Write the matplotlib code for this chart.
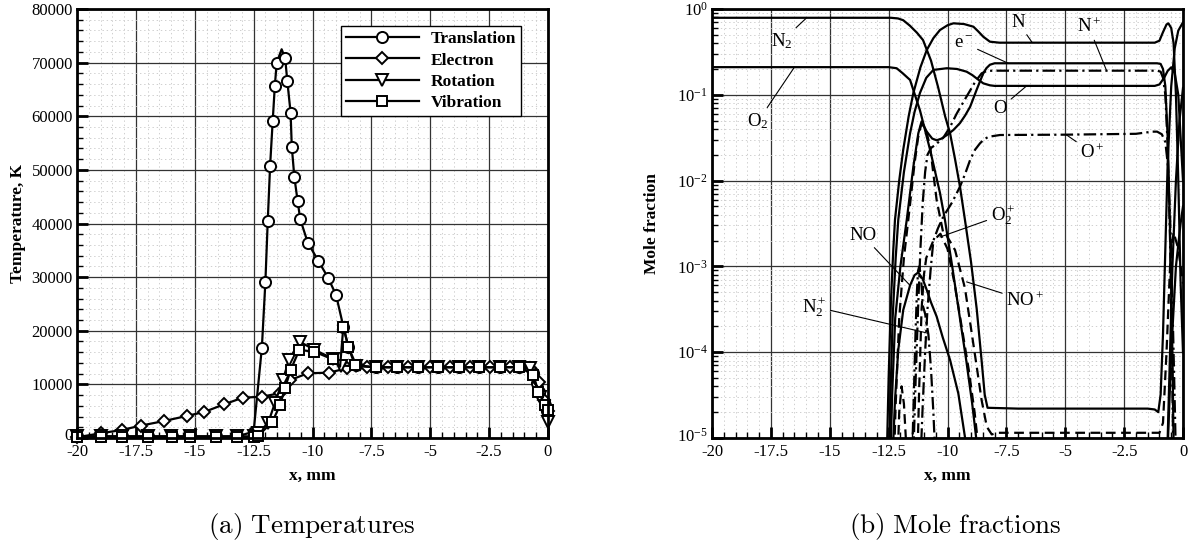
import matplotlib
matplotlib.use("Agg")
import matplotlib.pyplot as plt
from matplotlib.transforms import ScaledTranslation
from matplotlib.ticker import FixedLocator, MultipleLocator, LogLocator, NullFormatter

plt.rcParams["font.family"] = "Liberation Serif"
plt.rcParams["mathtext.fontset"] = "custom"
plt.rcParams["mathtext.rm"] = "Liberation Serif"
plt.rcParams["mathtext.it"] = "Liberation Serif:italic"
plt.rcParams["mathtext.bf"] = "Liberation Serif:bold"
plt.rcParams["lines.scale_dashes"] = False

# ---------------- temperatures (panel a) ----------------
x_tr = [-20, -19.0, -18.1, -17.0, -15.98, -15.2, -14.1, -13.2, -12.5, -12.15, -12.0, -11.9,
        -11.8, -11.69, -11.6, -11.52, -11.31, -11.16, -11.07, -10.93, -10.88, -10.77, -10.63,
        -10.52, -10.2, -9.75, -9.34, -9.0, -8.69, -8.48, -8.15, -7.3, -6.4, -5.51, -4.66,
        -3.77, -2.93, -2.04, -1.23, -0.62, -0.48, -0.37, -0.13, -0.03]
T_tr = [300, 300, 300, 300, 300, 300, 300, 300, 1175, 16850, 29160, 40520,
        50780, 59110, 65640, 69990, 72490, 70800, 66570, 60660, 54320, 48620, 44140,
        40780, 36420, 33020, 29900, 26680, 20770, 17030, 13620, 13190, 13190, 13190, 13190,
        13190, 13190, 13190, 13250, 12070, 10200, 8640, 6160, 5100]
tr_plain = [16]

x_el = [-20, -19.0, -18.1, -17.3, -16.3, -15.35, -14.6, -13.75, -12.96, -12.15, -11.4,
        -10.95, -10.2, -9.3, -8.55, -7.7, -6.78, -5.93, -5.01, -4.16, -3.31, -2.46,
        -1.61, -0.76, -0.4, -0.15, 0.0]
T_el = [130, 880, 1490, 2300, 3170, 4100, 4850, 6280, 7520, 7700, 8340,
        10800, 12070, 12180, 13000, 13180, 13180, 13180, 13180, 13180, 13180, 13180,
        13180, 13100, 10500, 7000, 5000]
el_plain = []

x_ro = [-20, -19.0, -18.1, -17.0, -16.0, -15.2, -14.1, -13.2, -12.5, -12.3, -11.88, -11.6,
        -11.26, -11.0, -10.55, -9.94, -9.14, -8.8, -8.15, -7.3, -6.4, -5.51, -4.66, -3.77,
        -2.93, -2.04, -1.23, -0.76, -0.34, 0.0]
T_ro = [300, 300, 300, 300, 300, 300, 300, 300, 300, 880, 2860, 6470,
        10820, 14550, 17970, 16500, 14800, 13500, 13400, 13190, 13190, 13190, 13190, 13190,
        13190, 13190, 13190, 13000, 7700, 3040]
ro_plain = []

x_vi = [-20, -19.0, -18.1, -17.0, -15.98, -15.2, -14.1, -13.2, -12.5, -12.3, -11.7, -11.38,
        -11.16, -10.93, -10.56, -9.92, -9.15, -8.83, -8.69, -8.48, -8.2, -7.3, -6.4, -5.51,
        -4.66, -3.77, -2.93, -2.04, -1.23, -0.62, -0.41, -0.13, 0.0]
T_vi = [200, 200, 200, 200, 200, 200, 200, 200, 200, 440, 3040, 6160,
        9390, 12690, 16420, 16100, 14680, 13300, 20770, 17030, 13620, 13190, 13190, 13190,
        13190, 13190, 13190, 13190, 13250, 11750, 8640, 6160, 5300]
vi_plain = [17]

temp_labels = ["Translation", "Electron", "Rotation", "Vibration"]
x_ticks = [-20, -17.5, -15, -12.5, -10, -7.5, -5, -2.5, 0]
x_ticklabels = ["-20", "-17.5", "-15", "-12.5", "-10", "-7.5", "-5", "-2.5", "0"]
T_ticks = [0, 10000, 20000, 30000, 40000, 50000, 60000, 70000, 80000]
T_ticklabels = ["0", "10000", "20000", "30000", "40000", "50000", "60000", "70000", "80000"]

# ---------------- mole fractions (panel b) ----------------
x_N2 = [-20, -13.0, -12.4, -12.1, -11.88, -11.6, -11.3, -11.04, -10.7, -10.4, -10.1, -9.89,
        -9.68, -9.47, -9.26, -9.0, -8.76, -8.55, -8.42, -8.3, -7.0, -5.0, -3.0, -1.5, -1.2,
        -1.05, -0.95, -0.85, -0.75, -0.65, -0.5, -0.35, -0.2, 0.0]
y_N2 = [0.79, 0.79, 0.79, 0.776, 0.74, 0.64, 0.53, 0.435, 0.25, 0.123,
        0.056, 0.0355, 0.0178, 8.5e-3, 3.5e-3, 1.12e-3, 3.2e-4, 7.9e-5, 3.2e-5, 2.25e-5,
        2.2e-5, 2.2e-5, 2.2e-5, 2.2e-5, 2.15e-5, 2.0e-5, 3.2e-5, 1.6e-4, 1.6e-3, 0.016,
        0.126, 0.35, 0.56, 0.70]

x_O2 = [-20, -13.0, -12.5, -12.16, -11.9, -11.59, -11.17, -10.74, -10.32, -10.11, -9.8,
        -9.5, -9.2, -8.95, -8.76, -8.5, -1.0, -0.75, -0.6, -0.45, -0.3, -0.15, 0.0]
y_O2 = [0.21, 0.21, 0.21, 0.204, 0.178, 0.149, 0.066, 0.0229, 7.2e-3, 3.5e-3, 1.0e-3,
        2.8e-4, 7.9e-5, 2.5e-5, 8.9e-6, 1e-7, 1e-7, 1e-6, 3.2e-5, 1.0e-3, 0.01, 0.05, 0.12]

x_N = [-12.6, -12.5, -12.4, -12.3, -12.23, -12.05, -11.88, -11.65, -11.45, -11.15, -10.88,
       -10.6, -10.32, -10.0, -9.75, -9.3, -8.9, -8.7, -8.48, -8.2, -7.8, -5.0, -2.0, -1.2,
       -1.0, -0.85, -0.7, -0.62, -0.5, -0.4, -0.3, -0.2, -0.1, 0.0]
y_N = [3.2e-6, 5.0e-5, 4.0e-4, 1.6e-3, 3.5e-3, 0.01, 0.0229, 0.056, 0.105, 0.209, 0.333,
       0.457, 0.569, 0.646, 0.681, 0.668, 0.622, 0.55, 0.475, 0.416, 0.405, 0.405, 0.405,
       0.405, 0.427, 0.537, 0.66, 0.68, 0.60, 0.40, 0.10, 0.01, 6.3e-4, 1.0e-4]

x_O = [-12.5, -12.42, -12.33, -12.2, -12.09, -11.85, -11.59, -11.4, -11.17, -10.9, -10.6,
       -10.03, -9.6, -9.19, -8.95, -8.76, -8.48, -8.2, -8.0, -5.0, -2.0, -1.2, -1.0, -0.8,
       -0.65, -0.5, -0.35, -0.2, -0.1, 0.0]
y_O = [3.2e-6, 3.2e-5, 2.5e-4, 1.26e-3, 3.5e-3, 0.0126, 0.0355, 0.063, 0.105, 0.158, 0.195,
       0.204, 0.2, 0.186, 0.17, 0.155, 0.136, 0.129, 0.127, 0.127, 0.127, 0.127, 0.132, 0.158,
       0.19, 0.209, 0.178, 0.10, 0.0316, 0.01]

x_e = [-12.45, -12.35, -12.22, -12.0, -11.73, -11.45, -11.24, -11.1, -10.88, -10.65, -10.46,
       -10.25, -10.03, -9.75, -9.47, -9.25, -9.04, -8.9, -8.76, -8.6, -8.48, -8.35, -8.2, -8.0,
       -5.0, -2.0, -1.1, -0.95, -0.85, -0.75, -0.65, -0.55, -0.45, -0.38]
y_e = [3.2e-6, 3.2e-5, 2.5e-4, 1.0e-3, 3.5e-3, 0.0145, 0.0355, 0.049, 0.0372, 0.0309, 0.0295,
       0.0309, 0.0339, 0.0389, 0.0468, 0.0575, 0.0724, 0.0912, 0.115, 0.148, 0.178, 0.204,
       0.224, 0.233, 0.233, 0.233, 0.233, 0.229, 0.2, 0.126, 0.0316, 2.5e-3, 1.0e-4, 3.2e-6]

x_NO = [-12.35, -12.3, -12.23, -12.09, -11.88, -11.59, -11.4, -11.24, -11.05, -10.88, -10.7,
        -10.46, -10.2, -9.89, -9.54, -9.26, -9.15, -0.7, -0.5, -0.3, -0.1, 0.0]
y_NO = [3.2e-6, 9.5e-6, 2.75e-5, 1.07e-4, 3.1e-4, 6.0e-4, 7.9e-4, 8.5e-4, 7.1e-4, 5.3e-4,
        3.8e-4, 2.6e-4, 1.48e-4, 8.1e-5, 3.3e-5, 1.03e-5, 3.2e-6, 3.2e-6, 1.0e-4, 1.0e-3,
        3.2e-3, 5.0e-3]

x_Np = [-11.45, -11.35, -11.25, -11.15, -11.05, -10.95, -10.85, -10.7, -10.5, -10.18, -9.9,
        -9.61, -9.4, -9.19, -9.0, -8.83, -8.55, -8.33, -8.0, -5.0, -2.0, -1.1, -0.95, -0.85,
        -0.75, -0.65, -0.55, -0.47, -0.4]
y_Np = [6.3e-6, 5.0e-5, 3.2e-4, 1.6e-3, 5.6e-3, 0.0126, 0.02, 0.024, 0.0263, 0.0316, 0.0417,
        0.0603, 0.0759, 0.0955, 0.117, 0.141, 0.178, 0.19, 0.191, 0.191, 0.191, 0.191, 0.186,
        0.158, 0.10, 0.025, 2.0e-3, 1.0e-4, 3.2e-6]

x_Op = [-11.15, -11.05, -10.95, -10.85, -10.72, -10.6, -10.4, -10.18, -9.8, -9.47, -9.25,
        -9.04, -8.83, -8.62, -8.45, -8.26, -7.77, -5.0, -2.0, -1.3, -1.1, -0.9, -0.75, -0.65,
        -0.55, -0.45, -0.35, -0.28]
y_Op = [5.0e-6, 2.5e-5, 1.0e-4, 3.2e-4, 8.9e-4, 2.0e-3, 2.8e-3, 3.8e-3, 5.6e-3, 8.5e-3,
        0.012, 0.0174, 0.0229, 0.0272, 0.0302, 0.0324, 0.034, 0.0343, 0.0351, 0.0372, 0.0372,
        0.0347, 0.0282, 0.0158, 4.0e-3, 4.0e-4, 2.5e-5, 3.2e-6]

x_N2p = [-11.55, -11.48, -11.42, -11.36, -11.3, -11.25, -11.2, -11.12, -11.05, -10.95,
         -10.81, -10.7, -10.6, -10.52, -10.45]
y_N2p = [3.2e-6, 1.0e-5, 4.0e-5, 1.6e-4, 5.0e-4, 8.9e-4, 1.0e-3, 7.1e-4, 3.5e-4, 2.8e-4,
         1.6e-4, 6.3e-5, 2.0e-5, 6.3e-6, 2.5e-6]

x_O2p = [-12.15, -12.05, -11.95, -11.85, -11.75, -11.65, -11.3, -11.2, -11.1, -11.0, -10.9,
         -10.6, -10.3, -10.0, -9.7, -9.4, -9.1, -8.85, -8.65, -8.5]
y_O2p = [3.2e-6, 2.0e-5, 4.0e-5, 2.5e-5, 8.0e-6, 3.2e-6, 3.2e-6, 4.0e-5, 3.2e-4, 8.0e-4,
         1.26e-3, 2.0e-3, 2.4e-3, 1.6e-3, 6.3e-4, 2.0e-4, 6.3e-5, 2.0e-5, 6.3e-6, 2.0e-6]

x_NOp = [-12.3, -12.2, -12.05, -11.85, -11.6, -11.4, -11.25, -11.12, -10.95, -10.74, -10.6,
         -10.46, -10.18, -10.1, -9.68, -9.26, -8.97, -8.76, -8.55, -8.33, -8.12, -7.9, -5.0,
         -2.0, -1.0, -0.85, -0.7, -0.55, -0.4, -0.2, 0.0]
y_NOp = [3.2e-6, 2.5e-5, 2.5e-4, 1.26e-3, 5.0e-3, 0.0158, 0.0316, 0.0447, 0.0427, 0.0251,
         0.012, 5.9e-3, 2.45e-3, 2.45e-3, 1.55e-3, 5.6e-4, 1.66e-4, 6.8e-5, 2.75e-5, 1.35e-5,
         1.1e-5, 1.15e-5, 1.15e-5, 1.15e-5, 1.15e-5, 1.5e-5, 1.0e-4, 1.0e-3, 2.5e-3, 1.6e-3,
         6.3e-4]

logy_ticks = [1e-5, 1e-4, 1e-3, 1e-2, 1e-1, 1e0]
logy_ticklabels = [r"$10^{-5}$", r"$10^{-4}$", r"$10^{-3}$", r"$10^{-2}$", r"$10^{-1}$", r"$10^{0}$"]

# species label: (text, text x, text y, target x, target y)
species_notes = [
    (r"N$_2$", -17.05, 0.42, -15.98, 0.79),
    (r"O$_2$", -18.05, 0.049, -16.5, 0.21),
    (r"N", -7.0, 0.70, -6.4, 0.405),
    (r"N$^+$", -4.0, 0.62, -3.24, 0.19),
    (r"e$^-$", -9.3, 0.40, -7.42, 0.233),
    (r"O", -7.75, 0.07, -6.64, 0.127),
    (r"O$^+$", -3.85, 0.021, -4.94, 0.034),
    (r"O$_2^+$", -7.65, 4.0e-3, -10.32, 2.2e-3),
    (r"NO", -13.6, 2.3e-3, -11.59, 6.0e-4),
    (r"NO$^+$", -6.7, 4.0e-4, -9.19, 6.6e-4),
    (r"N$_2^+$", -15.65, 3.4e-4, -10.81, 1.66e-4),
]

# ---------------- figure ----------------
fig = plt.figure(figsize=(11.94, 5.5), dpi=100)
axL = fig.add_axes([77 / 1194, 112 / 550, 471 / 1194, 429 / 550])
axR = fig.add_axes([712 / 1194, 112 / 550, 471 / 1194, 429 / 550])

tick_font = dict(family="Liberation Serif", size=12)
label_font = dict(family="Liberation Serif", size=12.5, weight="bold")


def frame(ax):
    for s in ax.spines.values():
        s.set_linewidth(2.0)
        s.set_color("black")
    ax.tick_params(which="major", direction="in", length=8, width=2.0,
                   top=False, right=False, labelsize=12)
    ax.tick_params(axis="x", which="major", pad=4)
    ax.tick_params(axis="y", which="major", pad=3)
    ax.tick_params(which="minor", direction="in", length=4.5, width=1.0,
                   top=False, right=False)
    ax.grid(which="major", color="#333333", lw=0.9, ls="-")
    ax.grid(which="minor", color="#c8c8c8", lw=0.6, ls=(0, (1, 2)))
    ax.set_axisbelow(True)
    ax.set_xlim(-20, 0)
    ax.xaxis.set_major_locator(FixedLocator(x_ticks))
    ax.set_xticklabels(x_ticklabels, fontdict=tick_font)
    ax.xaxis.set_minor_locator(MultipleLocator(0.5))
    ax.set_xlabel("x, mm", fontdict=label_font, labelpad=6)


# ---- panel a ----
mk = dict(mfc="white", mec="black", mew=1.4, color="black", lw=1.6)
series = [
    (x_tr, T_tr, "o", 8.0, tr_plain),
    (x_el, T_el, "D", 6.5, el_plain),
    (x_ro, T_ro, "v", 8.5, ro_plain),
    (x_vi, T_vi, "s", 7.0, vi_plain),
]
handles = []
for (xs, ts, m, ms, plain), lab in zip(series, temp_labels):
    every = [i for i in range(len(xs)) if i not in plain]
    h, = axL.plot(xs, ts, marker=m, ms=ms, markevery=every, label=lab, clip_on=False, **mk)
    handles.append(h)

frame(axL)
axL.set_ylim(0, 80000)
axL.yaxis.set_major_locator(FixedLocator(T_ticks))
axL.set_yticklabels(T_ticklabels, fontdict=tick_font)
axL.yaxis.set_minor_locator(MultipleLocator(2000))
axL.set_ylabel("Temperature, K", fontdict=label_font, labelpad=4)

leg = axL.legend(handles=handles, loc="upper right", bbox_to_anchor=(0.9427, 0.960),
                 borderaxespad=0, fancybox=False, frameon=True, edgecolor="black",
                 framealpha=1, handlelength=4.2, numpoints=1, labelspacing=0.3,
                 borderpad=0.28, handletextpad=0.7,
                 prop=dict(family="Liberation Serif", size=12.5, weight="bold"))
leg.get_frame().set_linewidth(1.0)

# ---- panel b ----
solid = dict(color="black", lw=1.6, ls="-")
dashdot = dict(color="black", lw=1.6, ls=(0, (9, 3, 1.6, 3)))
dashed = dict(color="black", lw=1.6, ls=(0, (7, 4)))
axR.plot(x_N2, y_N2, **solid)
axR.plot(x_O2, y_O2, **solid)
axR.plot(x_N, y_N, **solid)
axR.plot(x_O, y_O, **solid)
axR.plot(x_e, y_e, **solid)
axR.plot(x_NO, y_NO, **solid)
axR.plot(x_Np, y_Np, **dashdot)
axR.plot(x_Op, y_Op, **dashdot)
axR.plot(x_N2p, y_N2p, **dashdot)
axR.plot(x_O2p, y_O2p, **dashed)
axR.plot(x_NOp, y_NOp, **dashed)

axR.set_yscale("log")
frame(axR)
axR.set_ylim(1e-5, 1)
axR.yaxis.set_major_locator(FixedLocator(logy_ticks))
axR.set_yticklabels(logy_ticklabels, fontdict=tick_font)
axR.yaxis.set_minor_locator(LogLocator(base=10, subs=range(2, 10), numticks=20))
axR.yaxis.set_minor_formatter(NullFormatter())
axR.set_ylabel("Mole fraction", fontdict=label_font, labelpad=12)

for txt, tx, ty, px, py in species_notes:
    axR.annotate(txt, xy=(px, py), xytext=(tx, ty), ha="center", va="center",
                 fontsize=13.5, family="Liberation Serif",
                 arrowprops=dict(arrowstyle="-", lw=0.8, color="black",
                                 shrinkA=1, shrinkB=0))

# lift the lowest y tick labels a little so they clear the x tick labels
for ax, dy in ((axL, 4), (axR, 3)):
    lab0 = ax.yaxis.get_major_ticks()[0].label1
    lab0.set_transform(lab0.get_transform() + ScaledTranslation(0, dy / 100, fig.dpi_scale_trans))

# captions
fig.text(312 / 1194, 1 - 527 / 550, r"$\mathrm{(a)\ Temperatures}$", ha="center",
         va="center", fontsize=19.5, math_fontfamily="cm")
fig.text(955 / 1194, 1 - 527 / 550, r"$\mathrm{(b)\ Mole\ fractions}$", ha="center",
         va="center", fontsize=19.5, math_fontfamily="cm")

fig.savefig("out.png", dpi=100)
